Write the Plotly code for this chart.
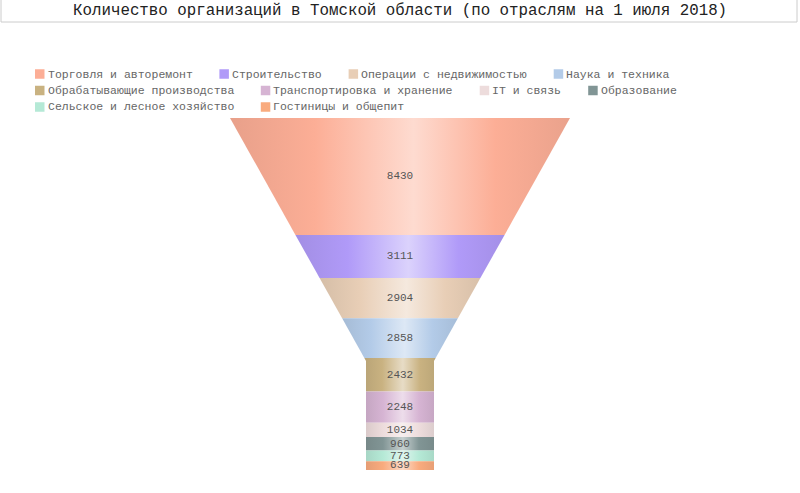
import plotly.graph_objects as go

# data
categories = ["Торговля и авторемонт", "Строительство", "Операции с недвижимостью",
              "Наука и техника", "Обрабатывающие производства", "Транспортировка и хранение",
              "IT и связь", "Образование", "Сельское и лесное хозяйство", "Гостиницы и общепит"]
values = [8430, 3111, 2904, 2858, 2432, 2248, 1034, 960, 773, 639]

colors = ["#FCAE96", "#B09AF8", "#E8CEB6", "#B3CBE8", "#C9B281",
          "#D6B4D3", "#EDDCDC", "#819595", "#B5E9D6", "#F9AB7E"]

TITLE = "Количество организаций в Томской области (по отраслям на 1 июля 2018)"
W, H = 800, 493
FONT = "Liberation Mono"
NECK_W = 0.2    # share of the top width
NECK_H = 0.31   # share of the total height


def px(x):
    return x / W


def py(y):
    return 1 - y / H


def hex_rgb(c):
    c = c.lstrip("#")
    return [int(c[i:i + 2], 16) for i in (0, 2, 4)]


def mix(c, other, t):
    a, b = hex_rgb(c), hex_rgb(other)
    r = [round(a[i] + (b[i] - a[i]) * t) for i in range(3)]
    return "rgb(%d,%d,%d)" % tuple(r)


total = sum(values)
neck_v = total * (1 - NECK_H)


def half_width(v):
    if v >= neck_v:
        return NECK_W / 2
    return 0.5 - (0.5 - NECK_W / 2) * v / neck_v


fig = go.Figure()

start = 0
mids = []
for name, v, c in zip(categories, values, colors):
    end = start + v
    ys = [start] + ([neck_v] if start < neck_v < end else []) + [end]
    xs = [-half_width(y) for y in ys] + [half_width(y) for y in ys[::-1]]
    fig.add_trace(go.Scatter(
        x=xs, y=ys + ys[::-1], fill="toself", mode="lines", line=dict(width=0),
        fillgradient=dict(type="horizontal", colorscale=[
            [0, mix(c, "#000000", 0.08)], [0.25, c],
            [0.54, mix(c, "#FFFFFF", 0.55)], [0.78, c],
            [1, mix(c, "#000000", 0.07)]]),
        name=name, text="%s: %d" % (name, v), hoveron="fills", hoverinfo="text",
        showlegend=False))
    mids.append(start + v / 2)
    start = end

fig.add_trace(go.Scatter(
    x=[0] * len(values), y=mids, mode="text", text=[str(v) for v in values],
    textfont=dict(family=FONT, size=11, color="#555555"),
    hoverinfo="skip", showlegend=False))

# legend drawn by hand so the spacing matches
char_w = 0.6 * 11.5
x, row = 35, 0
for name, c in zip(categories, colors):
    w = 12.5 + len(name) * char_w
    if x > 35 and x + w > W - 20:
        x, row = 35, row + 1
    yc = 74 + row * 16.5
    fig.add_shape(type="rect", xref="paper", yref="paper",
                  x0=px(x), x1=px(x + 9.5), y0=py(yc + 4.75), y1=py(yc - 4.75),
                  fillcolor=c, line_width=0)
    fig.add_annotation(xref="paper", yref="paper", x=px(x + 11.5), y=py(yc),
                       xanchor="left", yanchor="middle", text=name, showarrow=False,
                       borderpad=0, font=dict(family=FONT, size=11.5, color="#666666"))
    x += w + 27

# title in a box
fig.add_shape(type="rect", xref="paper", yref="paper", x0=px(1), x1=px(797),
              y0=py(22), y1=1.05, line=dict(color="#cccccc", width=1),
              fillcolor="white", layer="below")
fig.add_annotation(xref="paper", yref="paper", x=px(400), y=py(11), xanchor="center",
                   yanchor="middle", text=TITLE, showarrow=False,
                   font=dict(family=FONT, size=15.8, color="#222222"))

fig.update_layout(
    width=W, height=H, margin=dict(l=0, r=0, t=0, b=0),
    paper_bgcolor="white", plot_bgcolor="white",
    xaxis=dict(visible=False, range=[-400 / 340, (W - 400) / 340],
               domain=[0, 1], fixedrange=True),
    yaxis=dict(visible=False, range=[total, 0],
               domain=[py(470), py(118)], fixedrange=True),
    font=dict(family=FONT),
)

# the page should start at the very corner, like the original
fig.write_html("out.html", config={"displayModeBar": False},
               post_script="document.body.style.margin = '0';")
